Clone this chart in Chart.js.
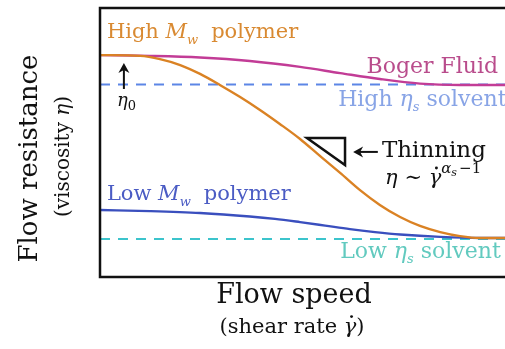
<!DOCTYPE html>
<html>
<head>
<meta charset="utf-8">
<script src="https://cdn.jsdelivr.net/npm/chart.js@4"></script>
<style>
  html, body { margin: 0; padding: 0; background: #ffffff; }
  canvas { display: block; }
</style>
</head>
<body>
<canvas id="c" width="505" height="349"></canvas>
<script>
// Sketch of viscosity versus shear rate (arbitrary units, 0-100 on both axes)
const highMwSpeed = [0, 9.9, 14.8, 19.8, 24.7, 29.6, 34.6, 39.5, 44.4, 49.4, 54.3, 59.3, 64.2, 69.1, 74.1, 79.0, 84.0, 88.9, 93.8, 100];
const highMwVisc  = [82.5, 82.2, 81.0, 78.8, 75.5, 71.4, 66.9, 62.1, 56.9, 51.3, 45.0, 38.7, 32.3, 26.8, 22.3, 19.0, 16.7, 15.2, 14.5, 14.5];

const bogerSpeed = [0, 12.3, 24.7, 37.0, 49.4, 59.3, 69.1, 79.0, 88.9, 100];
const bogerVisc  = [82.5, 82.2, 81.6, 80.3, 78.1, 75.8, 73.6, 71.9, 71.4, 71.4];

const lowMwSpeed = [0, 12.3, 24.7, 37.0, 43.2, 49.4, 55.6, 61.7, 67.9, 74.1, 84.0, 93.8, 100];
const lowMwVisc  = [24.9, 24.5, 23.8, 22.5, 21.6, 20.4, 19.1, 17.8, 16.7, 15.8, 14.9, 14.5, 14.5];

const solventSpeed = [0, 100];
const highSolventVisc = 71.6;
const lowSolventVisc = 14.1;

const pts = (xs, ys) => xs.map((x, i) => ({ x, y: ys[i] }));
const flat = (xs, v) => xs.map(x => ({ x, y: v }));

const SERIF = '"DejaVu Serif", "Liberation Serif", serif';

// Rich text: segments with optional italic, size scale and vertical shift
function measureRich(ctx, segs, size) {
  let w = 0;
  for (const s of segs) {
    ctx.font = (s.it ? 'italic ' : '') + Math.round(size * (s.sc || 1)) + 'px ' + SERIF;
    w += ctx.measureText(s.t).width + (s.gap || 0) * size;
  }
  return w;
}
function drawRich(ctx, segs, x, y, size, color, align) {
  const w = measureRich(ctx, segs, size);
  let cx = align === 'right' ? x - w : align === 'center' ? x - w / 2 : x;
  ctx.fillStyle = color;
  ctx.textBaseline = 'alphabetic';
  ctx.textAlign = 'left';
  for (const s of segs) {
    ctx.font = (s.it ? 'italic ' : '') + Math.round(size * (s.sc || 1)) + 'px ' + SERIF;
    ctx.fillText(s.t, cx, y + (s.dy || 0) * size);
    if (s.dot) {
      ctx.beginPath();
      ctx.arc(cx + ctx.measureText(s.t).width * 0.62, y - size * 0.78, size * 0.07, 0, Math.PI * 2);
      ctx.fill();
    }
    cx += ctx.measureText(s.t).width + (s.gap || 0) * size;
  }
}

const annotationPlugin = {
  id: 'annotations',
  afterDatasetsDraw(chart, args, opts) {
    const { ctx, chartArea: a, scales: { x: sx, y: sy } } = chart;
    const px = v => sx.getPixelForValue(v);
    const py = v => sy.getPixelForValue(v);
    ctx.save();

    // frame (left, top, bottom)
    ctx.strokeStyle = '#111';
    ctx.lineWidth = 2.5;
    ctx.beginPath();
    ctx.moveTo(a.right + 2, a.top);
    ctx.lineTo(a.left, a.top);
    ctx.lineTo(a.left, a.bottom);
    ctx.lineTo(a.right + 2, a.bottom);
    ctx.stroke();

    // curve labels
    for (const l of opts.labels) {
      drawRich(ctx, l.segs, px(l.x), py(l.y), l.size, l.color, l.align);
    }

    // arrows
    ctx.strokeStyle = '#111';
    ctx.fillStyle = '#111';
    for (const ar of opts.arrows) {
      const x0 = px(ar.from[0]), y0 = py(ar.from[1]);
      const x1 = px(ar.to[0]), y1 = py(ar.to[1]);
      const ang = Math.atan2(y1 - y0, x1 - x0);
      const hl = 10, hw = 5.5;
      ctx.lineWidth = 2;
      ctx.beginPath();
      ctx.moveTo(x0, y0);
      ctx.lineTo(x1 - Math.cos(ang) * hl * 0.6, y1 - Math.sin(ang) * hl * 0.6);
      ctx.stroke();
      ctx.beginPath();
      ctx.moveTo(x1, y1);
      ctx.lineTo(x1 - Math.cos(ang) * hl + Math.sin(ang) * hw, y1 - Math.sin(ang) * hl - Math.cos(ang) * hw);
      ctx.lineTo(x1 - Math.cos(ang) * hl * 0.7, y1 - Math.sin(ang) * hl * 0.7);
      ctx.lineTo(x1 - Math.cos(ang) * hl - Math.sin(ang) * hw, y1 - Math.sin(ang) * hl + Math.cos(ang) * hw);
      ctx.closePath();
      ctx.fill();
    }

    // slope triangle
    const t = opts.triangle;
    ctx.lineWidth = 2.5;
    ctx.lineJoin = 'miter';
    ctx.beginPath();
    ctx.moveTo(px(t[0][0]), py(t[0][1]));
    ctx.lineTo(px(t[1][0]), py(t[1][1]));
    ctx.lineTo(px(t[2][0]), py(t[2][1]));
    ctx.closePath();
    ctx.fillStyle = '#fff';
    ctx.fill();
    ctx.stroke();

    // axis titles
    const midY = (a.top + a.bottom) / 2 + 16;
    ctx.save();
    ctx.translate(37, midY);
    ctx.rotate(-Math.PI / 2);
    drawRich(ctx, [{ t: 'Flow resistance' }], 0, 0, 26, '#111', 'center');
    ctx.restore();
    ctx.save();
    ctx.translate(69, midY - 2);
    ctx.rotate(-Math.PI / 2);
    drawRich(ctx, [{ t: '(viscosity ' }, { t: 'η', it: true }, { t: ')' }], 0, 0, 20, '#111', 'center');
    ctx.restore();

    drawRich(ctx, [{ t: 'Flow speed' }], 294, 303, 27, '#111', 'center');
    drawRich(ctx, [{ t: '(shear rate ' }, { t: 'γ', it: true, dot: true }, { t: ')' }], 292, 333, 21, '#111', 'center');

    ctx.restore();
  }
};

new Chart(document.getElementById('c'), {
  type: 'line',
  data: {
    datasets: [
      { label: 'High Mw polymer', data: pts(highMwSpeed, highMwVisc), borderColor: '#DA8224', borderWidth: 2.4 },
      { label: 'Boger Fluid', data: pts(bogerSpeed, bogerVisc), borderColor: '#C23C96', borderWidth: 2.4 },
      { label: 'Low Mw polymer', data: pts(lowMwSpeed, lowMwVisc), borderColor: '#3A4FBE', borderWidth: 2.4 },
      { label: 'High ηs solvent', data: flat(solventSpeed, highSolventVisc), borderColor: '#5C86E6', borderWidth: 2, borderDash: [10, 8], cubicInterpolationMode: 'default', tension: 0 },
      { label: 'Low ηs solvent', data: flat(solventSpeed, lowSolventVisc), borderColor: '#3CC4CC', borderWidth: 2, borderDash: [10, 8], cubicInterpolationMode: 'default', tension: 0 }
    ]
  },
  options: {
    responsive: false,
    animation: false,
    layout: { padding: { left: 100, top: 8, right: 0, bottom: 72 } },
    elements: {
      point: { radius: 0 },
      line: { cubicInterpolationMode: 'monotone', fill: false }
    },
    scales: {
      x: { type: 'linear', min: 0, max: 100, display: false },
      y: { type: 'linear', min: 0, max: 100, display: false }
    },
    plugins: {
      legend: { display: false },
      tooltip: { enabled: false },
      annotations: {
        labels: [
          { x: 1.7, y: 88.8, size: 21, color: '#D98A32', segs: [{ t: 'High ' }, { t: 'M', it: true }, { t: 'w', it: true, sc: 0.6, dy: 0.3, gap: 0.3 }, { t: ' polymer' }] },
          { x: 98.3, y: 75.8, size: 22, color: '#B94C8C', align: 'right', segs: [{ t: 'Boger Fluid' }] },
          { x: 58.8, y: 63.6, size: 22, color: '#88A4E6', segs: [{ t: 'High ' }, { t: 'η', it: true }, { t: 's', it: true, sc: 0.6, dy: 0.25 }, { t: ' solvent' }] },
          { x: 69.6, y: 44.6, size: 23, color: '#111', segs: [{ t: 'Thinning' }] },
          { x: 70.4, y: 34.4, size: 21, color: '#111', segs: [{ t: 'η', it: true }, { t: ' ∼ ' }, { t: 'γ', it: true, dot: true }, { t: 'α', it: true, sc: 0.7, dy: -0.55 }, { t: 's', it: true, sc: 0.5, dy: -0.42, gap: 0.1 }, { t: '−1', sc: 0.7, dy: -0.55 }] },
          { x: 1.7, y: 28.6, size: 21, color: '#4B5CC4', segs: [{ t: 'Low ' }, { t: 'M', it: true }, { t: 'w', it: true, sc: 0.6, dy: 0.3, gap: 0.3 }, { t: ' polymer' }] },
          { x: 59.3, y: 7.1, size: 22, color: '#62CABF', segs: [{ t: 'Low ' }, { t: 'η', it: true }, { t: 's', it: true, sc: 0.6, dy: 0.25 }, { t: ' solvent' }] },
          { x: 4.2, y: 63.6, size: 18, color: '#111', segs: [{ t: 'η', it: true }, { t: '0', sc: 0.7, dy: 0.2 }] }
        ],
        arrows: [
          { from: [5.9, 69.9], to: [5.9, 79.6] },
          { from: [68.6, 46.5], to: [62.5, 46.5] }
        ],
        triangle: [[51.1, 51.7], [60.5, 51.7], [60.5, 41.6]]
      }
    }
  },
  plugins: [annotationPlugin]
});
</script>
</body>
</html>
